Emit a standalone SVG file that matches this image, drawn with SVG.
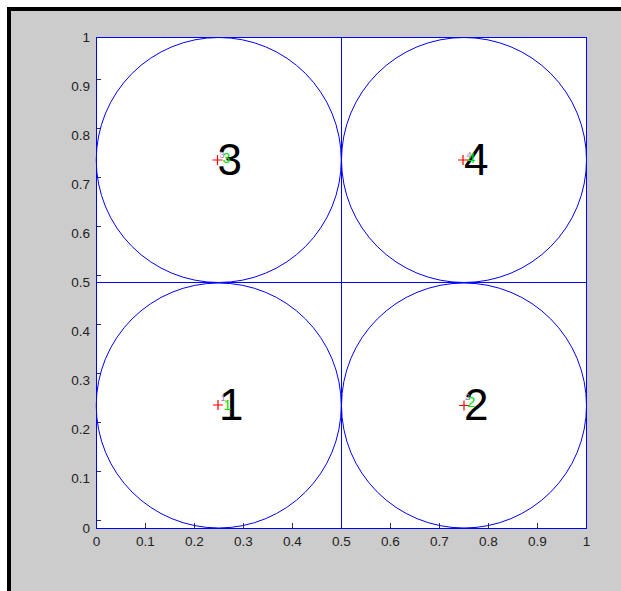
<svg xmlns="http://www.w3.org/2000/svg" width="621" height="591" viewBox="0 0 621 591">
<style>
.bl{fill:none;stroke:#0000ff;stroke-width:1}
.ln{fill:none;stroke:#0000ff;stroke-width:1;shape-rendering:crispEdges}
.fl{fill:#0000ff;shape-rendering:crispEdges}
.tk{stroke:#333;stroke-width:1;shape-rendering:crispEdges}
.lab{font-family:"Liberation Sans",Arial,sans-serif;font-size:13.5px;fill:#222}
.big{font-family:"Liberation Sans",Arial,sans-serif;font-size:44px;fill:#000}
.grn{font-family:"Liberation Sans",Arial,sans-serif;font-size:14px;fill:#00e000}
.pur{font-family:"Liberation Sans",Arial,sans-serif;font-size:9px;fill:#9a80d8}
.pl{stroke:#ff0000;stroke-width:1.2}
</style>
<rect x="0" y="0" width="621" height="591" fill="#ffffff"/>
<rect x="7" y="7" width="614" height="584" fill="#000000"/>
<rect x="11" y="11" width="610" height="580" fill="#cccccc"/>
<g id="axes">
<rect x="96.5" y="37.5" width="490" height="491" fill="#ffffff"/>
<g class="tk">
<path d="M96.5 79.5h4M96.5 128.5h4M96.5 177.5h4M96.5 226.5h4M96.5 275.5h4M96.5 324.5h4M96.5 373.5h4M96.5 422.5h4M96.5 471.5h4M96.5 520.5h4"/>
<path d="M145.5 528v-5M194.5 528v-5M243.5 528v-5M292.5 528v-5M390.5 528v-5M439.5 528v-5M488.5 528v-5M537.5 528v-5"/>
</g>
<g class="lab" text-anchor="end">
<text x="90" y="42">1</text>
<text x="90" y="91">0.9</text>
<text x="90" y="140">0.8</text>
<text x="90" y="189">0.7</text>
<text x="90" y="238">0.6</text>
<text x="90" y="287">0.5</text>
<text x="90" y="336">0.4</text>
<text x="90" y="385">0.3</text>
<text x="90" y="434">0.2</text>
<text x="90" y="483">0.1</text>
<text x="90" y="532.5">0</text>
</g>
<g class="lab" text-anchor="middle">
<text x="96.5" y="545.5">0</text>
<text x="145.5" y="545.5">0.1</text>
<text x="194.5" y="545.5">0.2</text>
<text x="243.5" y="545.5">0.3</text>
<text x="292.5" y="545.5">0.4</text>
<text x="341.5" y="545.5">0.5</text>
<text x="390.5" y="545.5">0.6</text>
<text x="439.5" y="545.5">0.7</text>
<text x="488.5" y="545.5">0.8</text>
<text x="537.5" y="545.5">0.9</text>
<text x="586.5" y="545.5">1</text>
</g>
</g>
<g id="connectors">
<rect class="ln" x="96.5" y="37.5" width="490" height="491"/>
<rect class="fl" x="341" y="37" width="1" height="492"/>
<rect class="fl" x="96" y="282" width="491" height="1"/>
</g>
<g id="node3">
<circle class="bl" cx="218.75" cy="160" r="122.5"/>
<text class="big" x="217.5" y="175">3</text>
<text class="grn" x="222.5" y="163">3</text>
<text class="pur" x="219.5" y="158">3</text>
<path class="pl" d="M212.5 160h10M217.5 155v10"/>
</g>
<g id="node4">
<circle class="bl" cx="464" cy="160" r="122.5"/>
<text class="big" x="464" y="175">4</text>
<text class="grn" x="467.5" y="163">4</text>
<text class="pur" x="466.5" y="158">4</text>
<path class="pl" d="M458 160h10M463 155v10"/>
</g>
<g id="node1">
<circle class="bl" cx="218.75" cy="405.5" r="122.5"/>
<text class="big" x="219" y="420">1</text>
<text class="grn" x="223.5" y="410">1</text>
<text class="pur" x="220.5" y="401">1</text>
<path class="pl" d="M213 405h10M218 400v10"/>
</g>
<g id="node2">
<circle class="bl" cx="464" cy="405.5" r="122.5"/>
<text class="big" x="464" y="420">2</text>
<text class="grn" x="467.5" y="407">2</text>
<text class="pur" x="465" y="400">2</text>
<path class="pl" d="M459 405.5h10M464 400.5v10"/>
</g>
</svg>
